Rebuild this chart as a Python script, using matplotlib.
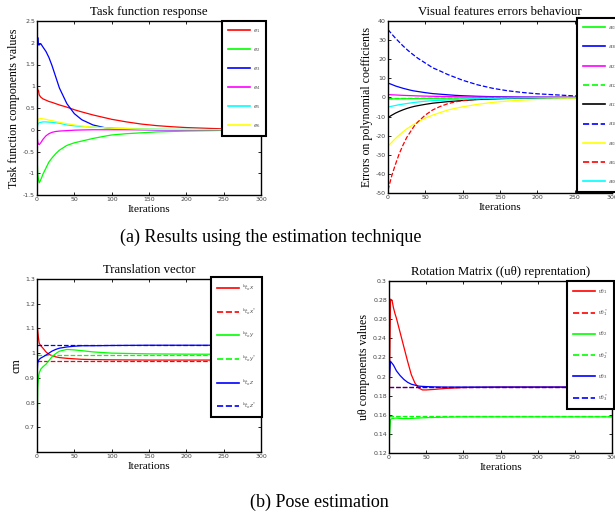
import matplotlib
matplotlib.use("Agg")
import matplotlib.pyplot as plt

plt.rcParams['font.family'] = ['Liberation Serif', 'DejaVu Serif']
plt.rcParams['mathtext.fontset'] = 'dejavusans'

# ---- (a) task function response
it_a = [0, 1, 2, 3, 5, 8, 12, 16, 20, 25, 30, 40, 50, 60, 75, 90, 100, 120, 140, 160, 180, 200, 250, 300]
e1 = [1.0, 0.92, 0.9, 0.8, 0.75, 0.71, 0.68, 0.65, 0.63, 0.6, 0.57, 0.52, 0.46, 0.41, 0.34, 0.28, 0.24, 0.18, 0.13, 0.095, 0.07, 0.05, 0.02, 0.01]
e2 = [-0.6, -1.0, -1.15, -1.22, -1.15, -1.02, -0.88, -0.74, -0.65, -0.55, -0.47, -0.36, -0.3, -0.26, -0.2, -0.15, -0.12, -0.09, -0.07, -0.05, -0.04, -0.03, -0.015, -0.005]
e3 = [1.85, 2.12, 1.95, 1.95, 1.98, 1.9, 1.8, 1.66, 1.48, 1.22, 0.96, 0.6, 0.37, 0.23, 0.11, 0.05, 0.03, 0.01, 0.005, 0, 0, 0, 0, 0]
e4 = [-0.12, -0.28, -0.33, -0.34, -0.3, -0.22, -0.14, -0.09, -0.06, -0.04, -0.03, -0.02, -0.01, -0.005, 0, 0, 0, 0, 0, 0, 0, 0, 0, 0]
e5 = [0.0, 0.12, 0.15, 0.16, 0.17, 0.18, 0.18, 0.175, 0.17, 0.16, 0.15, 0.11, 0.09, 0.075, 0.06, 0.05, 0.04, 0.03, 0.02, 0.015, 0.01, 0.008, 0.004, 0.002]
e6 = [0.0, 0.2, 0.24, 0.25, 0.26, 0.25, 0.24, 0.22, 0.21, 0.19, 0.17, 0.14, 0.11, 0.085, 0.06, 0.045, 0.035, 0.025, 0.015, 0.01, 0.008, 0.005, 0.002, 0.0]
task_series = [e1, e2, e3, e4, e5, e6]
task_labels = ['$e_1$', '$e_2$', '$e_3$', '$e_4$', '$e_5$', '$e_6$']
task_colors = ['#ff0000', '#00ff00', '#0000ff', '#ff00ff', '#00ffff', '#ffff00']

# ---- (a) visual features errors
it_b = [0, 5, 10, 15, 20, 25, 30, 35, 40, 50, 60, 70, 80, 90, 100, 120, 140, 160, 180, 200, 250, 300]
a03 = [-0.8, -0.78, -0.75, -0.72, -0.69, -0.66, -0.63, -0.6, -0.58, -0.52, -0.47, -0.43, -0.39, -0.35, -0.32, -0.26, -0.21, -0.17, -0.13, -0.1, -0.05, -0.02]
a30 = [7.5, 6.8, 6.0, 5.4, 4.8, 4.3, 3.8, 3.4, 3.1, 2.5, 2.0, 1.7, 1.4, 1.1, 0.9, 0.6, 0.4, 0.3, 0.2, 0.15, 0.05, 0.0]
a21 = [1.5, 1.4, 1.3, 1.2, 1.1, 1.02, 0.95, 0.87, 0.8, 0.7, 0.6, 0.52, 0.45, 0.38, 0.3, 0.22, 0.15, 0.1, 0.07, 0.05, 0.02, 0.0]
a12 = [-0.6, -0.58, -0.56, -0.54, -0.52, -0.5, -0.48, -0.46, -0.44, -0.4, -0.36, -0.33, -0.3, -0.27, -0.24, -0.19, -0.15, -0.12, -0.09, -0.07, -0.03, -0.01]
a11 = [-10.5, -9.3, -8.2, -7.3, -6.5, -5.8, -5.2, -4.7, -4.3, -3.6, -3.0, -2.6, -2.2, -1.9, -1.6, -1.1, -0.8, -0.55, -0.4, -0.3, -0.12, -0.05]
a10 = [35.5, 33.2, 31.0, 29.0, 27.0, 25.2, 23.5, 22.0, 20.5, 18.0, 15.5, 13.8, 12.0, 10.5, 9.0, 6.6, 4.8, 3.5, 2.6, 1.9, 0.8, 0.3]
a01 = [-25.5, -23.5, -21.5, -19.7, -18.0, -16.5, -15.2, -14.0, -12.8, -10.8, -9.2, -7.9, -6.6, -5.7, -4.9, -3.6, -2.6, -1.9, -1.4, -1.0, -0.45, -0.2]
a02 = [-48.5, -41.0, -35.0, -29.5, -25.0, -21.0, -18.0, -15.0, -12.8, -9.2, -6.5, -4.7, -3.3, -2.3, -1.7, -0.85, -0.4, -0.2, -0.1, -0.06, -0.01, 0.0]
a00 = [-5.0, -4.6, -4.2, -3.8, -3.5, -3.2, -2.9, -2.6, -2.4, -2.0, -1.7, -1.5, -1.3, -1.1, -0.85, -0.6, -0.45, -0.33, -0.25, -0.18, -0.08, -0.03]
coef_series = [a03, a30, a21, a12, a11, a10, a01, a02, a00]
coef_labels = ['$a_{03}$', '$a_{30}$', '$a_{21}$', '$a_{12}$', '$a_{11}$', '$a_{10}$', '$a_{01}$', '$a_{02}$', '$a_{00}$']
coef_colors = ['#00ff00', '#0000ff', '#ff00ff', '#00ff00', '#000000', '#0000ff', '#ffff00', '#ff0000', '#00ffff']
coef_styles = ['-', '-', '-', '--', '-', '--', '-', '--', '-']

# ---- (b) translation vector
it_c = [0, 1, 2, 3, 5, 8, 12, 16, 20, 25, 30, 40, 50, 60, 75, 100, 150, 200, 300]
tx = [1.12, 1.09, 1.06, 1.04, 1.03, 1.02, 1.005, 0.995, 0.99, 0.985, 0.982, 0.979, 0.977, 0.975, 0.974, 0.973, 0.972, 0.972, 0.972]
ty = [0.645, 0.86, 0.905, 0.92, 0.935, 0.945, 0.955, 0.97, 0.985, 0.998, 1.008, 1.015, 1.013, 1.01, 1.005, 1.0, 0.997, 0.996, 0.995]
tz = [0.91, 0.96, 0.97, 0.975, 0.98, 0.985, 0.992, 1.0, 1.008, 1.015, 1.02, 1.025, 1.028, 1.03, 1.03, 1.031, 1.032, 1.032, 1.032]
tx_ref = [0.97] * len(it_c)
ty_ref = [0.994] * len(it_c)
tz_ref = [1.032] * len(it_c)
trans_series = [tx, tx_ref, ty, ty_ref, tz, tz_ref]
trans_labels = ['${}^{b}t_{o}x$', '${}^{b}t_{o}x^{*}$', '${}^{b}t_{o}y$', '${}^{b}t_{o}y^{*}$',
                '${}^{b}t_{o}z$', '${}^{b}t_{o}z^{*}$']

# ---- (b) rotation (u theta)
it_d = [0, 2, 4, 6, 8, 10, 15, 20, 25, 30, 35, 40, 45, 50, 60, 75, 100, 150, 300]
ut1 = [0.15, 0.281, 0.28, 0.272, 0.266, 0.261, 0.246, 0.231, 0.216, 0.202, 0.193, 0.188, 0.186, 0.186, 0.1865, 0.1875, 0.1885, 0.189, 0.189]
ut2 = [0.128, 0.155, 0.156, 0.1562, 0.1565, 0.1565, 0.1562, 0.156, 0.156, 0.1562, 0.1564, 0.1566, 0.1568, 0.157, 0.1572, 0.1575, 0.1578, 0.1578, 0.1578]
ut3 = [0.19, 0.216, 0.214, 0.212, 0.209, 0.206, 0.201, 0.197, 0.194, 0.192, 0.191, 0.190, 0.1897, 0.1895, 0.1892, 0.189, 0.189, 0.189, 0.189]
ut1_ref = [0.189] * len(it_d)
ut2_ref = [0.1588] * len(it_d)
ut3_ref = [0.189] * len(it_d)
rot_series = [ut1, ut1_ref, ut2, ut2_ref, ut3, ut3_ref]
rot_labels = ['uθ$_1$', 'uθ$^*_1$', 'uθ$_2$', 'uθ$^*_2$', 'uθ$_3$', 'uθ$^*_3$']

pair_colors = ['#ff0000', '#ff0000', '#00ff00', '#00ff00', '#0000ff', '#0000ff']
pair_styles = ['-', '--', '-', '--', '-', '--']

W, H = 615, 515
fig = plt.figure(figsize=(6.15, 5.15), dpi=100)


def box(l, t, r, b):
    return [l / W, 1 - b / H, (r - l) / W, (b - t) / H]


def style(ax, title, ylabel, ylim, yticks):
    ax.set_xlim(0, 300)
    ax.set_ylim(*ylim)
    ax.set_xticks([0, 50, 100, 150, 200, 250, 300])
    ax.set_yticks(yticks)
    ax.set_yticklabels(['%g' % v for v in yticks])
    ax.tick_params(direction='in', top=True, right=True, length=2.5, width=0.6,
                   labelsize=4.5, labelcolor='#444444', pad=1.5)
    for lab in ax.get_xticklabels() + ax.get_yticklabels():
        lab.set_family('DejaVu Sans')
    for s in ax.spines.values():
        s.set_linewidth(1.0)
    ax.set_title(title, fontsize=9.2, pad=4)
    ax.set_xlabel('Iterations', fontsize=8.2, labelpad=2)
    ax.set_ylabel(ylabel, fontsize=8.6, labelpad=2)


def legend(ax, l, t, spacing):
    leg = ax.legend(loc='upper left', bbox_to_anchor=(l / W, 1 - t / H), bbox_transform=fig.transFigure,
                    fontsize=4, frameon=True, fancybox=False, borderpad=1.1, labelspacing=spacing,
                    handlelength=4.0, handletextpad=0.4, borderaxespad=0)
    leg.get_frame().set_edgecolor('black')
    leg.get_frame().set_linewidth(1.5)
    leg.get_frame().set_alpha(1)
    for txt in leg.get_texts():
        txt.set_color('#555555')
    for ln in leg.get_lines():
        ln.set_linewidth(1.2)
    return leg


ax1 = fig.add_axes(box(37, 21, 261, 195))
for y, lab, c in zip(task_series, task_labels, task_colors):
    ax1.plot(it_a, y, color=c, lw=0.9, label=lab)
style(ax1, 'Task function response', 'Task function components values', (-1.5, 2.5),
      [-1.5, -1, -0.5, 0, 0.5, 1, 1.5, 2, 2.5])
legend(ax1, 222, 21, 2.0)

ax2 = fig.add_axes(box(388, 21, 612, 193))
for y, lab, c, ls in zip(coef_series, coef_labels, coef_colors, coef_styles):
    ax2.plot(it_b, y, color=c, ls=ls, lw=0.9, label=lab)
style(ax2, 'Visual features errors behaviour', 'Errors on polynomial coefficients', (-50, 40),
      [-50, -40, -30, -20, -10, 0, 10, 20, 30, 40])
legend(ax2, 577, 18, 2.05)

ax3 = fig.add_axes(box(37, 279, 261, 452))
for y, lab, c, ls in zip(trans_series, trans_labels, pair_colors, pair_styles):
    ax3.plot(it_c, y, color=c, ls=ls, lw=0.9, label=lab)
style(ax3, 'Translation vector', 'cm', (0.6, 1.3), [0.7, 0.8, 0.9, 1, 1.1, 1.2, 1.3])
legend(ax3, 211, 277, 2.4)

ax4 = fig.add_axes(box(389, 281, 612, 453))
for y, lab, c, ls in zip(rot_series, rot_labels, pair_colors, pair_styles):
    ax4.plot(it_d, y, color=c, ls=ls, lw=0.9, label=lab)
style(ax4, 'Rotation Matrix ((uθ) reprentation)', 'uθ components values', (0.12, 0.3),
      [0.12, 0.14, 0.16, 0.18, 0.2, 0.22, 0.24, 0.26, 0.28, 0.3])
legend(ax4, 567, 281, 2.05)

fig.text(271 / W, 1 - 237 / H, '(a) Results using the estimation technique', ha='center', va='center', fontsize=13)
fig.text(319 / W, 1 - 502 / H, '(b) Pose estimation', ha='center', va='center', fontsize=13)

fig.savefig('out.png', dpi=100)
